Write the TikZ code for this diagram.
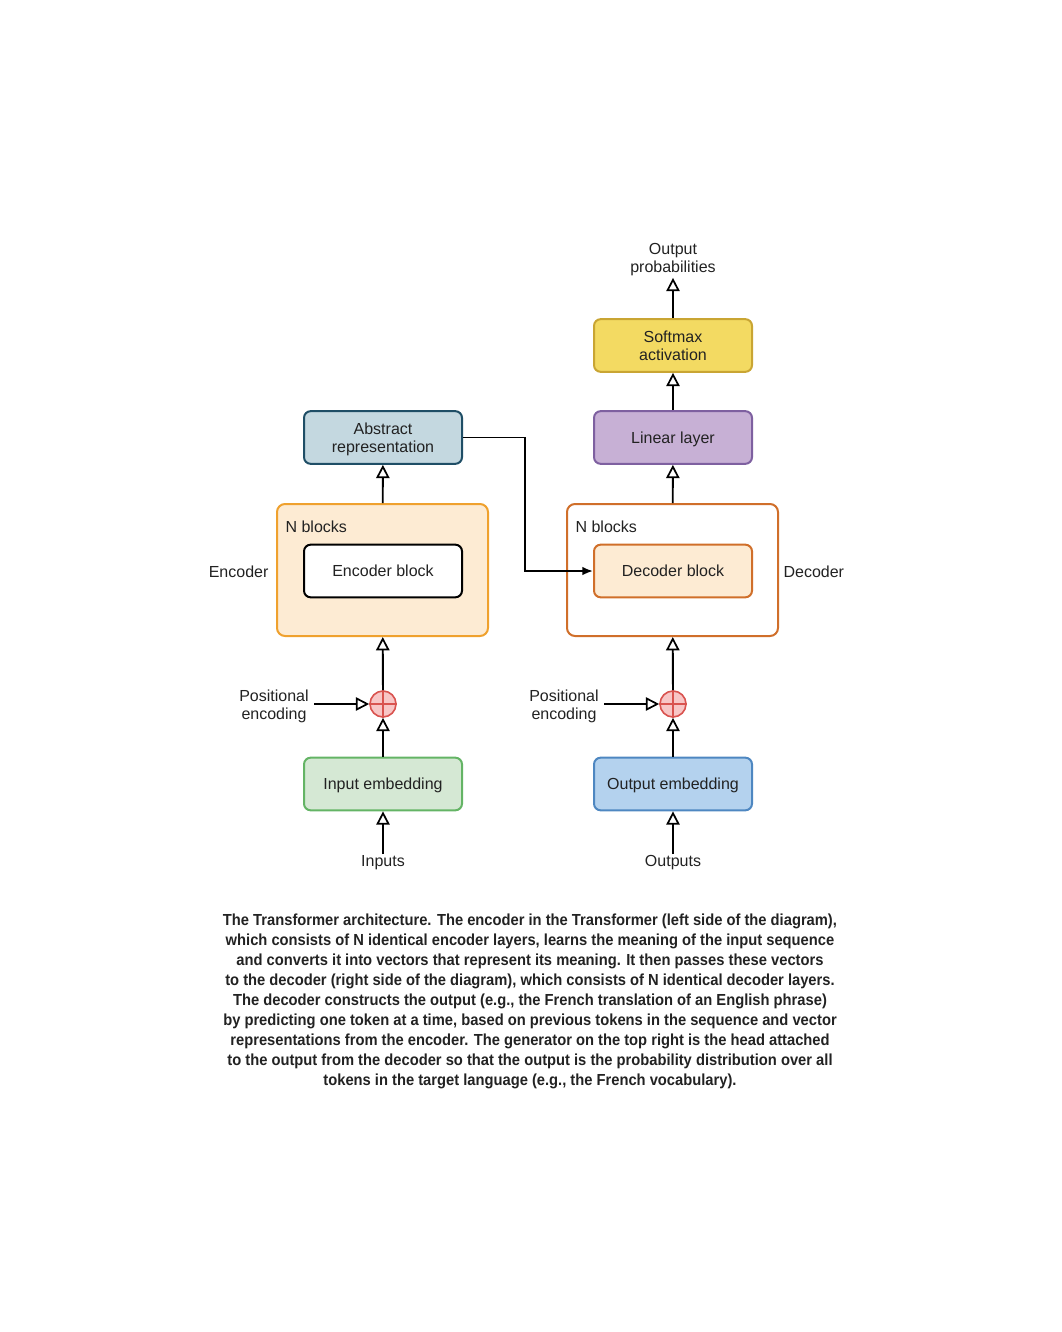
\documentclass[tikz,border=0pt]{standalone}
\usepackage{fontspec}
\setmainfont{Liberation Sans}
\newfontfamily\captionfont[FakeStretch=0.92]{Liberation Sans}
\usetikzlibrary{positioning,arrows.meta,backgrounds}

\definecolor{textgray}{HTML}{222222}
\definecolor{softmaxfill}{HTML}{F3DA62}
\definecolor{softmaxline}{HTML}{C9A533}
\definecolor{linearfill}{HTML}{C7B0D5}
\definecolor{linearline}{HTML}{7E60A0}
\definecolor{abstractfill}{HTML}{C4D8E0}
\definecolor{abstractline}{HTML}{1F4E66}
\definecolor{encfill}{HTML}{FDEBD3}
\definecolor{encline}{HTML}{EFA12E}
\definecolor{decline}{HTML}{D06F2A}
\definecolor{inembfill}{HTML}{D5E8D4}
\definecolor{inembline}{HTML}{64B465}
\definecolor{outembfill}{HTML}{B4D2EE}
\definecolor{outembline}{HTML}{4E87C1}
\definecolor{plusfill}{HTML}{F8C6C6}
\definecolor{plusline}{HTML}{D9534F}

\begin{document}
\begin{tikzpicture}[%
        x=0.75pt, y=-0.75pt,%
        every node/.style={text=textgray},%
        label text/.style={font=\fontsize{12}{13.5}\selectfont, align=center, inner sep=1pt},%
        block/.style={draw, rounded corners=5pt, line width=1.5pt,%
            minimum width=118.5pt, minimum height=39.5pt, inner sep=0pt,%
            text depth=0pt, align=center, font=\fontsize{12}{13.5}\selectfont},%
        stack/.style={draw, rounded corners=6pt, line width=1.5pt,%
            minimum width=158.25pt, minimum height=99pt, inner sep=0pt},%
        adder/.style={circle, draw=plusline, fill=plusfill, line width=1.2pt,%
            minimum size=19.5pt, inner sep=0pt},%
        arr/.style={line width=1.4pt, -{Triangle[open, length=10pt, width=10pt, line width=1.3pt]}}%
    ]
        \useasboundingbox (0,0) rectangle (1062,1332);%

        %
        % Encoder side
        %
        \node[stack, draw=encline, fill=encfill] (encstack) at (382.5,570) {};%
        \node[label text, anchor=west] (encn) at (284,527) {N blocks};%
        \node[label text, anchor=east] (enclabel) at (270,572) {Encoder};%
        \node[block, draw=black, fill=white] (encblock) at (383,571) {Encoder block};%
        \node[block, draw=abstractline, fill=abstractfill] (abstract) at (383,437.5) {Abstract\\representation};%
        \node[adder] (encadd) at (383,704) {};%
        \node[label text] (encpos) at (274,706) {Positional\\encoding};%
        \node[block, draw=inembline, fill=inembfill] (inemb) at (383,784) {Input embedding};%
        \node[label text] (inputs) at (383,863) {Inputs};%

        %
        % Decoder side
        %
        \node[stack, draw=decline, fill=white] (decstack) at (672.5,570) {};%
        \node[label text, anchor=west] (decn) at (574,527) {N blocks};%
        \node[label text, anchor=west] (declabel) at (782,572) {Decoder};%
        \node[block, draw=decline, fill=encfill] (decblock) at (673,571) {Decoder block};%
        \node[block, draw=linearline, fill=linearfill] (linear) at (673,437.5) {Linear layer};%
        \node[block, draw=softmaxline, fill=softmaxfill] (softmax) at (673,345.5) {Softmax\\activation};%
        \node[label text] (outprob) at (673,260) {Output\\probabilities};%
        \node[adder] (decadd) at (673,704) {};%
        \node[label text] (decpos) at (564,706) {Positional\\encoding};%
        \node[block, draw=outembline, fill=outembfill] (outemb) at (673,784) {Output embedding};%
        \node[label text] (outputs) at (673,863) {Outputs};%

        % Plus signs
        \foreach \a in {encadd,decadd} {%
            \draw[plusline, line width=1.2pt] (\a.north) -- (\a.south);%
            \draw[plusline, line width=1.2pt] (\a.west) -- (\a.east);%
        }%

        %
        % Connectors
        %
        \draw[arr] (inputs) -- (inemb);%
        \draw[arr] (inemb) -- (encadd);%
        \draw[arr] (encadd) -- (encstack);%
        \draw[arr] (encstack) -- (abstract);%
        \coordinate (encpos end) at (314,704);%
        \draw[arr] (encpos end) -- (encadd);%

        \draw[arr] (outputs) -- (outemb);%
        \draw[arr] (outemb) -- (decadd);%
        \draw[arr] (decadd) -- (decstack);%
        \draw[arr] (decstack) -- (linear);%
        \draw[arr] (linear) -- (softmax);%
        \draw[arr] (softmax) -- (outprob);%
        \coordinate (decpos end) at (604,704);%
        \draw[arr] (decpos end) -- (decadd);%

        % Encoder output into the decoder block
        \coordinate (bend) at (525,505);%
        \draw[line width=1.4pt, -{Latex[length=8pt, width=6.5pt]}] (abstract.east) -| (bend) |- (decblock.west);%

        %
        % Caption
        %
        \node[align=center, inner sep=0pt, font=\captionfont\bfseries\fontsize{12}{15}\selectfont] (caption) at (530,1001) {%
            The Transformer architecture. The encoder in the Transformer (left side of the diagram),\\
            which consists of N identical encoder layers, learns the meaning of the input sequence\\
            and converts it into vectors that represent its meaning. It then passes these vectors\\
            to the decoder (right side of the diagram), which consists of N identical decoder layers.\\
            The decoder constructs the output (e.g., the French translation of an English phrase)\\
            by predicting one token at a time, based on previous tokens in the sequence and vector\\
            representations from the encoder. The generator on the top right is the head attached\\
            to the output from the decoder so that the output is the probability distribution over all\\
            tokens in the target language (e.g., the French vocabulary).};%
    \end{tikzpicture}
\end{document}
